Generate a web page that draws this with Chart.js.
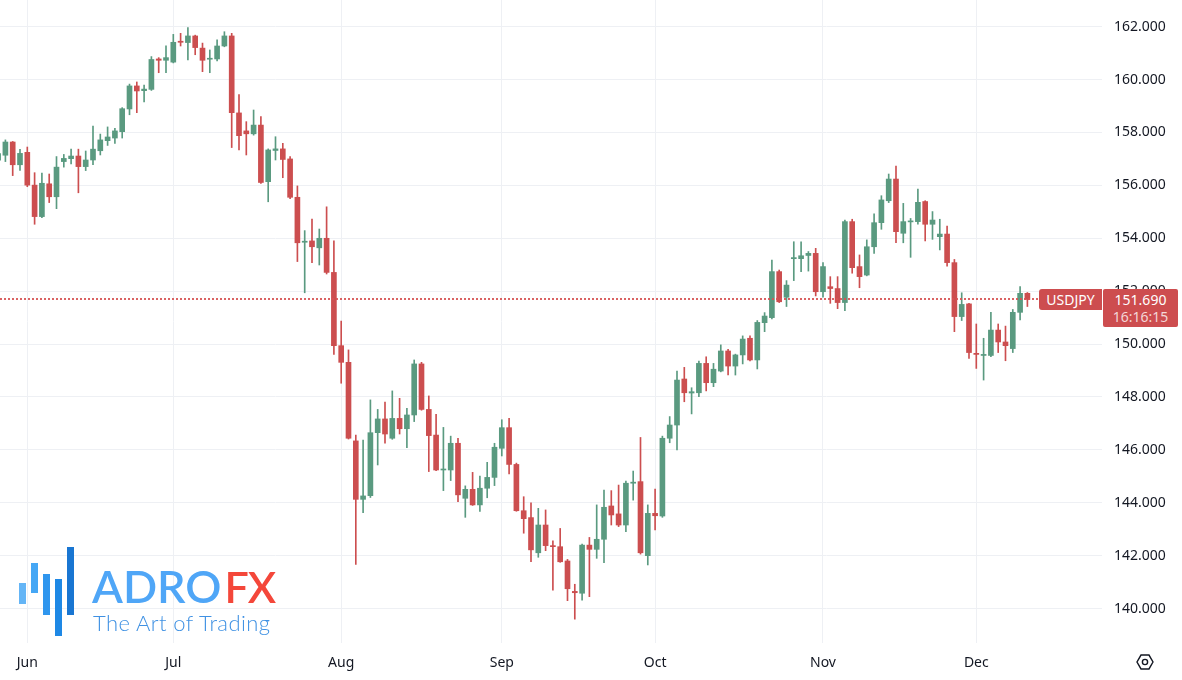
<!DOCTYPE html>
<html>
<head>
<meta charset="utf-8">
<script src="https://cdn.jsdelivr.net/npm/chart.js@4.4.1/dist/chart.umd.min.js"></script>
<style>
html,body{margin:0;padding:0;background:#ffffff;}
#wrap{position:relative;width:1182px;height:680px;overflow:hidden;font-family:"Noto Sans",sans-serif;}
#c{position:absolute;left:0;top:0;}
.bar{position:absolute;width:7px;}
#adro{position:absolute;left:92px;top:564px;font-family:Lato,sans-serif;font-weight:600;font-size:45px;line-height:45px;color:#4fa6f7;white-space:nowrap;letter-spacing:0px;}
#adro span{color:#f4473a;margin-left:3px;letter-spacing:-1px;font-size:43px;}
#tagline{position:absolute;left:93px;top:612px;font-family:Lato,sans-serif;font-weight:300;font-size:22px;line-height:22px;color:#3f91e3;white-space:nowrap;letter-spacing:0.4px;}
#symTag{position:absolute;left:1039px;top:290px;width:63px;height:21px;background:#cd4d4f;color:#fff;font-size:14px;line-height:21px;text-align:center;border-radius:3px 0 0 3px;}
#priceTag{position:absolute;left:1103px;top:290px;width:75px;height:38px;background:#cd4d4f;color:#fff;font-size:14px;text-align:center;border-radius:2px;}
#priceTag .p{line-height:14px;margin-top:4px;}
#priceTag .t{line-height:14px;margin-top:3px;color:rgba(255,255,255,0.78);}
</style>
</head>
<body>
<div id="wrap">
<canvas id="c" width="1182" height="680"></canvas>
<div class="bar" style="left:19px;top:583px;height:21px;background:#64b5f6"></div>
<div class="bar" style="left:31px;top:563px;height:30px;background:#45a7f5"></div>
<div class="bar" style="left:43px;top:574px;height:41px;background:#2f96ee"></div>
<div class="bar" style="left:55px;top:579px;height:57px;background:#1e88e5"></div>
<div class="bar" style="left:67px;top:547px;height:68px;background:#1976d2"></div>
<div id="adro">ADRO<span>FX</span></div>
<div id="tagline">The Art of Trading</div>
<div id="symTag">USDJPY</div>
<div id="priceTag"><div class="p" id="pText">151.690</div><div class="t">16:16:15</div></div>
</div>
<script>
// ---- data ----
const dates = [
 "2024-05-28","2024-05-29","2024-05-30","2024-05-31",
 "2024-06-03","2024-06-04","2024-06-05","2024-06-06","2024-06-07","2024-06-10","2024-06-11","2024-06-12","2024-06-13","2024-06-14",
 "2024-06-17","2024-06-18","2024-06-19","2024-06-20","2024-06-21","2024-06-24","2024-06-25","2024-06-26","2024-06-27","2024-06-28",
 "2024-07-01","2024-07-02","2024-07-03","2024-07-04","2024-07-05","2024-07-08","2024-07-09","2024-07-10","2024-07-11","2024-07-12",
 "2024-07-15","2024-07-16","2024-07-17","2024-07-18","2024-07-19","2024-07-22","2024-07-23","2024-07-24","2024-07-25","2024-07-26",
 "2024-07-29","2024-07-30","2024-07-31",
 "2024-08-01","2024-08-02","2024-08-05","2024-08-06","2024-08-07","2024-08-08","2024-08-09","2024-08-12","2024-08-13","2024-08-14",
 "2024-08-15","2024-08-16","2024-08-19","2024-08-20","2024-08-21","2024-08-22","2024-08-23","2024-08-26","2024-08-27","2024-08-28",
 "2024-08-29","2024-08-30",
 "2024-09-02","2024-09-03","2024-09-04","2024-09-05","2024-09-06","2024-09-09","2024-09-10","2024-09-11","2024-09-12","2024-09-13",
 "2024-09-16","2024-09-17","2024-09-18","2024-09-19","2024-09-20","2024-09-23","2024-09-24","2024-09-25","2024-09-26","2024-09-27",
 "2024-09-30",
 "2024-10-01","2024-10-02","2024-10-03","2024-10-04","2024-10-07","2024-10-08","2024-10-09","2024-10-10","2024-10-11","2024-10-14",
 "2024-10-15","2024-10-16","2024-10-17","2024-10-18","2024-10-21","2024-10-22","2024-10-23","2024-10-24","2024-10-25","2024-10-28",
 "2024-10-29","2024-10-30","2024-10-31",
 "2024-11-01","2024-11-04","2024-11-05","2024-11-06","2024-11-07","2024-11-08","2024-11-11","2024-11-12","2024-11-13","2024-11-14",
 "2024-11-15","2024-11-18","2024-11-19","2024-11-20","2024-11-21","2024-11-22","2024-11-25","2024-11-26","2024-11-27","2024-11-28",
 "2024-11-29",
 "2024-12-02","2024-12-03","2024-12-04","2024-12-05","2024-12-06","2024-12-09","2024-12-10","2024-12-11"
];
const open = [
 156.95,157.14,157.64,156.78,
 157.25,156.01,154.82,156.06,155.57,156.90,157.01,157.11,156.71,156.96,157.31,157.69,157.79,158.03,158.89,159.76,159.58,159.63,160.78,160.73,
 160.66,161.45,161.40,161.65,161.19,160.77,160.78,161.27,161.65,158.74,158.06,157.95,158.28,156.14,157.32,157.38,157.00,155.55,153.85,153.90,153.64,154.00,152.71,
 149.94,149.31,146.34,144.13,144.27,146.65,147.17,146.44,147.19,146.80,147.32,149.25,147.53,146.56,145.24,145.24,146.25,144.17,144.51,143.92,144.55,144.96,
 146.06,146.84,145.45,143.70,143.44,142.11,143.16,142.38,142.34,141.80,140.65,140.58,142.40,142.24,142.62,143.88,143.58,143.16,144.74,144.80,142.00,
 143.60,143.50,146.44,146.94,148.68,148.15,148.16,149.27,148.54,148.98,149.74,149.17,149.59,150.22,149.40,150.81,151.00,152.74,151.77,153.23,153.23,153.35,153.43,
 151.98,152.17,152.10,151.57,154.63,152.93,152.61,153.68,154.59,155.42,156.24,154.19,154.62,154.63,155.39,154.53,154.06,154.16,153.08,151.04,151.52,
 149.65,149.57,149.57,150.53,150.08,149.83,151.20,151.92
];
const high = [
 157.50,157.72,157.66,157.36,
 157.45,156.48,156.47,156.43,157.09,157.17,157.37,157.37,157.30,158.24,157.94,158.21,158.16,158.94,159.83,159.91,159.79,160.87,160.83,161.28,
 161.71,161.75,161.97,161.68,161.38,161.12,161.50,161.81,161.75,159.43,158.41,158.85,158.60,157.38,157.84,157.59,157.09,155.98,154.29,154.73,154.35,155.19,153.90,
 150.87,149.78,146.56,146.37,147.89,147.53,147.81,148.23,147.95,147.57,149.40,149.31,148.04,147.34,146.85,146.52,146.44,144.64,145.15,145.01,145.53,146.25,
 147.14,147.19,145.50,144.23,144.00,143.79,143.73,142.56,143.03,141.86,140.92,142.44,142.69,143.92,144.48,144.46,144.67,144.82,145.20,146.47,143.92,
 144.52,146.52,147.26,148.98,149.12,148.35,149.36,149.52,149.27,149.97,149.80,149.62,150.31,150.31,150.89,151.19,153.18,152.80,152.40,153.87,153.87,153.50,153.62,
 153.08,152.55,152.55,154.69,154.72,153.37,153.94,154.92,155.61,156.43,156.73,155.32,154.75,155.86,155.42,155.01,154.72,154.46,153.20,151.94,151.54,
 150.76,150.22,151.20,150.76,150.68,151.31,152.17,151.95
];
const low = [
 156.80,156.90,156.37,156.57,
 155.95,154.53,154.78,155.35,155.12,156.69,156.81,155.72,156.56,156.78,157.15,157.51,157.59,157.79,158.67,158.75,159.16,159.59,160.26,160.26,
 160.63,161.27,160.74,160.94,160.30,160.26,160.71,161.24,157.43,157.34,157.15,157.90,156.07,155.38,156.96,156.29,155.50,153.12,151.94,153.08,152.99,152.65,149.61,
 148.52,146.41,141.67,143.63,144.20,145.43,146.25,146.40,146.60,146.08,147.07,147.50,145.18,145.21,144.46,144.84,144.04,143.45,143.90,143.67,144.19,144.65,
 145.77,145.09,143.68,142.85,141.77,141.94,142.19,140.70,141.75,140.30,139.60,140.32,140.45,141.90,141.74,143.16,143.10,142.91,144.10,142.06,141.65,
 142.97,143.45,146.27,146.00,147.82,147.36,148.01,148.23,148.39,148.95,148.83,148.83,149.25,149.36,149.06,150.47,150.95,151.57,151.42,152.40,152.74,152.76,151.82,
 151.77,151.54,151.34,151.26,152.68,152.13,152.58,153.43,154.34,155.35,153.83,153.83,153.28,154.53,153.90,153.96,153.56,152.95,150.47,150.89,149.46,
 149.08,148.64,149.52,149.68,149.37,149.68,150.91,151.42
];
const close = [
 157.20,157.64,156.78,157.21,
 156.01,154.82,156.08,155.57,156.69,157.02,157.11,156.71,156.96,157.37,157.72,157.83,158.06,158.90,159.76,159.57,159.64,160.76,160.73,160.83,
 161.41,161.41,161.65,161.21,160.73,160.80,161.27,161.65,158.75,157.88,157.95,158.28,156.11,157.34,157.38,156.98,155.55,153.83,153.89,153.68,154.00,152.71,149.94,
 149.31,146.44,144.13,144.26,146.65,147.17,146.60,147.19,146.80,147.32,149.25,147.53,146.54,145.24,145.27,146.25,144.30,144.51,143.92,144.55,144.96,146.10,
 146.84,145.45,143.70,143.40,142.22,143.16,142.38,142.34,141.77,140.75,140.60,142.40,142.24,142.62,143.83,143.54,143.16,144.74,144.78,142.11,143.60,
 143.51,146.44,146.94,148.64,148.16,148.20,149.27,148.54,149.05,149.74,149.17,149.59,150.19,149.40,150.82,151.06,152.74,151.60,152.23,153.27,153.34,153.43,151.98,
 152.93,152.10,151.57,154.63,152.89,152.55,153.68,154.59,155.45,156.24,154.25,154.63,154.65,155.36,154.53,154.69,154.16,153.08,151.04,151.50,149.68,
 149.61,149.61,150.53,150.08,149.94,151.20,151.92,151.69
];
const monthLabels = ["Jun","Jul","Aug","Sep","Oct","Nov","Dec"];
const monthStarts = ["2024-06-03","2024-07-01","2024-08-01","2024-09-02","2024-10-01","2024-11-01","2024-12-02"];
const yTicks = [140,142,144,146,148,150,152,154,156,158,160,162];
const symbol = "USDJPY";
const lastPrice = 151.690;

// ---- chart ----
const UP = "#5a9a80";
const DOWN = "#cc4e4f";
const GRID = "#eef0f4";
const monthIdx = monthStarts.map(d => dates.indexOf(d));
const colorAt = i => (close[i] >= open[i] ? UP : DOWN);
const wickData = dates.map((d, i) => ({x: i, y: [low[i], high[i]]}));
const bodyData = dates.map((d, i) => ({x: i, y: [open[i], close[i]]}));

const firstIdx = monthIdx[0];
const xMin = firstIdx - 3.74;
const xMax = firstIdx + 147.22;

const noPad = s => { s.paddingTop = 0; s.paddingBottom = 0; s.paddingLeft = 0; s.paddingRight = 0; };

const overlayPlugin = {
  id: 'overlay',
  afterDatasetsDraw(chart) {
    const {ctx, chartArea, scales} = chart;
    const py = Math.round(scales.y.getPixelForValue(lastPrice));
    ctx.save();
    ctx.fillStyle = "rgba(214,82,83,0.9)";
    for (let x = Math.round(chartArea.left); x < chartArea.right; x += 4) {
      ctx.fillRect(x, py - 1, 2, 2);
    }
    ctx.restore();
    const top = Math.round(py - 10);
    document.getElementById('symTag').style.top = top + 'px';
    document.getElementById('priceTag').style.top = top + 'px';
  },
  afterDraw(chart) {
    const ctx = chart.ctx;
    const cx = 1145, cy = 662, r = 8;
    ctx.save();
    ctx.strokeStyle = "#131722";
    ctx.lineWidth = 1.4;
    ctx.beginPath();
    for (let k = 0; k < 6; k++) {
      const a = Math.PI / 3 * k;
      const px = cx + r * Math.cos(a), py = cy + r * Math.sin(a);
      if (k === 0) ctx.moveTo(px, py); else ctx.lineTo(px, py);
    }
    ctx.closePath();
    ctx.stroke();
    ctx.beginPath();
    ctx.arc(cx, cy, 2.6, 0, Math.PI * 2);
    ctx.stroke();
    ctx.restore();
  }
};

new Chart(document.getElementById('c'), {
  type: 'bar',
  data: {
    datasets: [
      {label: 'wick', data: wickData, barThickness: 1, grouped: false, order: 2,
       backgroundColor: c => colorAt(c.dataIndex), borderWidth: 0},
      {label: symbol, data: bodyData, barThickness: 5, grouped: false, order: 1, minBarLength: 1,
       backgroundColor: c => colorAt(c.dataIndex), borderWidth: 0}
    ]
  },
  options: {
    responsive: false,
    animation: false,
    events: [],
    layout: {padding: 0},
    plugins: {legend: {display: false}, tooltip: {enabled: false}},
    scales: {
      x: {
        type: 'linear', min: xMin, max: xMax, offset: false,
        grid: {color: GRID, drawTicks: false, offset: false},
        border: {display: false},
        afterBuildTicks: s => { s.ticks = monthIdx.map(v => ({value: v})); },
        afterFit: s => { s.height = 37; noPad(s); },
        ticks: {
          autoSkip: false, maxRotation: 0, padding: 12,
          color: "#131722", font: {family: "Noto Sans", size: 14},
          callback: v => { const k = monthIdx.indexOf(v); return k >= 0 ? monthLabels[k] : ''; }
        }
      },
      y: {
        type: 'linear', position: 'right', min: 138.699, max: 163.009,
        grid: {color: GRID, drawTicks: false},
        border: {display: false},
        afterBuildTicks: s => { s.ticks = yTicks.map(v => ({value: v})); },
        afterFit: s => { s.width = 80; noPad(s); },
        ticks: {
          padding: 12, color: "#131722", font: {family: "Noto Sans", size: 14},
          callback: v => Number(v).toFixed(3)
        }
      }
    }
  },
  plugins: [overlayPlugin]
});
document.getElementById('pText').textContent = lastPrice.toFixed(3);
document.getElementById('symTag').textContent = symbol;
</script>
</body>
</html>
